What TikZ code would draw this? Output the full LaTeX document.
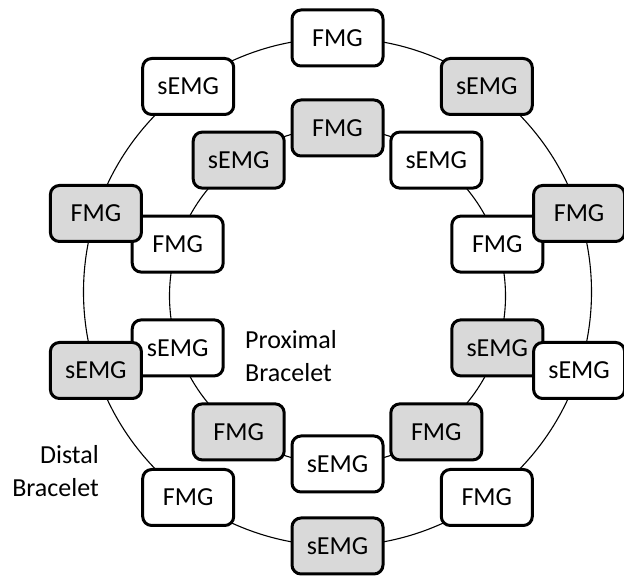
\documentclass[tikz,border=0pt]{standalone}
\usepackage{fontspec}
\setmainfont{Carlito}
\usepackage{tikz}

\begin{document}
\begin{tikzpicture}[
        x=1pt, y=1pt,
        font=\fontsize{26}{33}\selectfont,
        sensor/.style={rectangle, draw=black, fill=white, rounded corners=9pt, line width=3pt, minimum width=91pt, minimum height=56pt, inner sep=0pt, align=center},
        shaded/.style={sensor, fill=black!15},
        bracelet/.style={draw=black, line width=1.1pt},
        caption/.style={inner sep=0pt}
    ]
    \useasboundingbox (0,0) rectangle (624,578);

    \coordinate (proxc) at (337.5,282);
    \coordinate (distc) at (337.5,286);
    \draw[bracelet] (distc) circle[radius=254pt];
    \draw[bracelet] (proxc) circle[radius=168pt];

    % proximal bracelet
    \node[shaded] (p0) at (337.5,450.0) {FMG};
    \node[sensor] (p1) at (436.3,417.9) {sEMG};
    \node[sensor] (p2) at (497.3,333.9) {FMG};
    \node[shaded] (p3) at (497.3,230.1) {sEMG};
    \node[shaded] (p4) at (436.3,146.1) {FMG};
    \node[sensor] (p5) at (337.5,114.0) {sEMG};
    \node[shaded] (p6) at (238.7,146.1) {FMG};
    \node[sensor] (p7) at (177.7,230.1) {sEMG};
    \node[sensor] (p8) at (177.7,333.9) {FMG};
    \node[shaded] (p9) at (238.7,417.9) {sEMG};

    % distal bracelet
    \node[sensor] (d0) at (337.5,540.0) {FMG};
    \node[shaded] (d1) at (486.8,491.5) {sEMG};
    \node[shaded] (d2) at (579.1,364.5) {FMG};
    \node[sensor] (d3) at (579.1,207.5) {sEMG};
    \node[sensor] (d4) at (486.8,80.5) {FMG};
    \node[shaded] (d5) at (337.5,32.0) {sEMG};
    \node[sensor] (d6) at (188.2,80.5) {FMG};
    \node[shaded] (d7) at (95.9,207.5) {sEMG};
    \node[shaded] (d8) at (95.9,364.5) {FMG};
    \node[sensor] (d9) at (188.2,491.5) {sEMG};

    \node[caption, align=left, anchor=west] (proxlabel) at (245,221.5) {Proximal\\Bracelet};
    \node[caption, align=right, anchor=east] (distlabel) at (99,106.5) {Distal\\Bracelet};
\end{tikzpicture}
\end{document}
